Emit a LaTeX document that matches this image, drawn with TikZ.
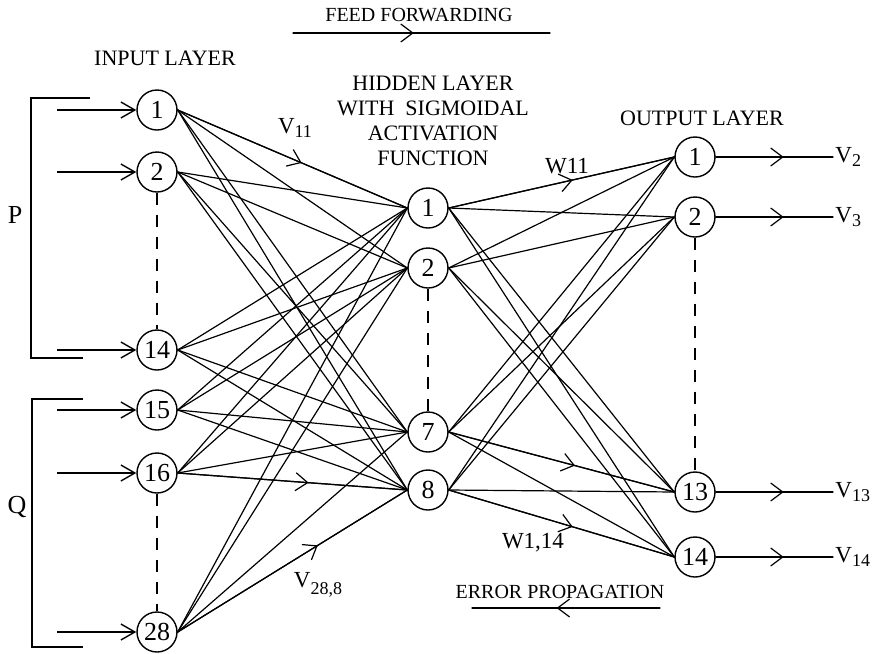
\documentclass[tikz,border=0pt]{standalone}
\usepackage{fontspec}
\setmainfont{Liberation Serif}
\usetikzlibrary{arrows.meta,positioning,decorations.markings}
\newcommand{\wsub}[1]{\raisebox{-0.3ex}{\fontsize{9}{9}\selectfont #1}}
\tikzset{
  nodeUnit/.style={draw,circle,line width=0.7pt,minimum size=20pt,
                   inner sep=0pt,font=\fontsize{13}{13}\selectfont},
  edgeLine/.style={line width=0.6pt,line cap=round},
  inFlow/.style={-{Straight Barb[length=7pt,width=8pt]},line width=0.7pt},
  midFlow/.style={postaction={decorate},
    decoration={markings,mark=at position #1 with
      {\arrow{Straight Barb[length=6pt,width=9pt,line width=0.6pt]}}}},
  dashLink/.style={line width=0.7pt,dash pattern=on 6pt off 5pt},
  bracketLine/.style={line width=0.8pt},
  titleText/.style={font=\fontsize{11}{12.5}\selectfont,align=center},
  passText/.style={font=\fontsize{10}{12}\selectfont},
  weightText/.style={font=\fontsize{11.5}{12}\selectfont},
}

\begin{document}
\begin{tikzpicture}[x=0.5pt,y=-0.5pt]
\useasboundingbox (0,0) rectangle (880,654);

% layers
\foreach \n/\y in {1/110,2/172,14/350,15/410,16/473,28/632}
  \node[nodeUnit] (in\n) at (157,\y) {\n};
\foreach \n/\y in {1/208,2/268,7/432,8/490}
  \node[nodeUnit] (hid\n) at (428,\y) {\n};
\foreach \n/\y in {1/157,2/217,13/492,14/557}
  \node[nodeUnit] (out\n) at (695,\y) {\n};

% fully connected weights
\foreach \i in {1,2,14,15,16,28}
  \foreach \j in {1,2,7,8}
    \draw[edgeLine] (in\i.east) -- (hid\j.west);
\foreach \j in {1,2,7,8}
  \foreach \k in {1,2,13,14}
    \draw[edgeLine] (hid\j.east) -- (out\k.west);

% weights with a direction mark
\draw[edgeLine,midFlow=0.54] (in1.east) -- (hid1.west);
\draw[edgeLine,midFlow=0.57] (in16.east) -- (hid8.west);
\draw[edgeLine,midFlow=0.61] (in28.east) -- (hid8.west);
\draw[edgeLine,midFlow=0.55] (hid1.east) -- (out1.west);
\draw[edgeLine,midFlow=0.56] (hid7.east) -- (out13.west);
\draw[edgeLine,midFlow=0.55] (hid8.east) -- (out14.west);

% skipped units
\draw[dashLink] (in2.south) -- (in14.north);
\draw[dashLink] (in16.south) -- (in28.north);
\draw[dashLink] (hid2.south) -- (hid7.north);
\draw[dashLink] (out2.south) -- (out13.north);

% inputs and outputs
\coordinate (inStart) at (57,0);
\coordinate (vEnd) at (833,0);
\foreach \n in {1,2,14,15,16,28}
  \draw[inFlow] (in\n.west -| inStart) -- (in\n.west);
\foreach \n/\lab in {1/2,2/3,13/13,14/14} {
  \draw[edgeLine,midFlow=0.58] (out\n.east) -- (out\n.east -| vEnd) coordinate (vOut\n);
  \node[weightText,anchor=west,inner sep=1pt] at (vOut\n) {V\wsub{\lab}};
}

% input groups
\draw[bracketLine] (90,98) -- (31,98) -- (31,358) -- (83,358);
\draw[bracketLine] (83,399) -- (32,399) -- (32,647) -- (83,647);
\node[font=\fontsize{13}{13}\selectfont] (pLabel) at (15,215) {P};
\node[font=\fontsize{13}{13}\selectfont] (qLabel) at (17,507) {Q};

% titles
\node[titleText] (inTitle) at (165,58) {INPUT LAYER};
\node[titleText] (hidTitle) at (433,121)
  {HIDDEN LAYER\\WITH\ \ SIGMOIDAL\\ACTIVATION\\FUNCTION};
\node[titleText] (outTitle) at (702,118) {OUTPUT LAYER};

% weight labels
\node[weightText] (v11) at (295,128) {V\wsub{11}};
\node[weightText] (w11) at (567,166) {W11};
\node[weightText] (v288) at (318,585) {V\raisebox{-0.6ex}{\fontsize{9}{9}\selectfont 28,8}};
\node[weightText] (w114) at (533,543) {W1,14};

% directions of the passes
\node[passText] (ffTitle) at (419,15) {FEED FORWARDING};
\coordinate (ffL) at (293,33);
\coordinate (ffR) at (550,33);
\draw[edgeLine,midFlow=0.47] (ffL) -- (ffR);
\node[passText] (epTitle) at (560,592) {ERROR PROPAGATION};
\coordinate (epL) at (472,608);
\coordinate (epR) at (660,608);
\draw[edgeLine,midFlow=0.55] (epR) -- (epL);

\end{tikzpicture}
\end{document}
